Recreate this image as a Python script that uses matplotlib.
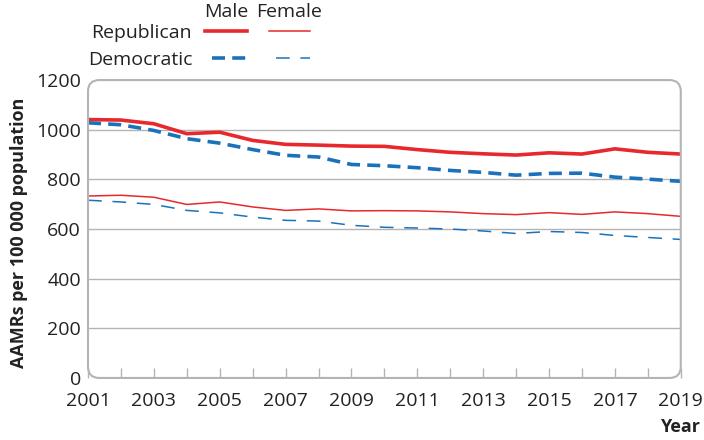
import matplotlib.pyplot as plt
from matplotlib.patches import FancyBboxPatch
from matplotlib.lines import Line2D

plt.rcParams['font.family'] = ['Open Sans', 'DejaVu Sans']

years = list(range(2001, 2020))
rep_male = [1041, 1039, 1024, 984, 990, 957, 941, 938, 934, 933,
            920, 909, 903, 898, 907, 902, 923, 909, 902]
dem_male = [1028, 1020, 997, 964, 946, 920, 897, 890, 860, 855,
            847, 836, 828, 817, 824, 825, 809, 801, 792]
rep_female = [733, 736, 728, 699, 709, 689, 675, 681, 673, 674,
              673, 669, 662, 658, 666, 659, 669, 662, 651]
dem_female = [716, 709, 699, 675, 665, 648, 635, 632, 615, 607,
              604, 600, 592, 582, 590, 586, 574, 566, 558]

red = '#e8282d'
blue = '#1b72bb'
grey = '#b4b4b4'
ink = '#222222'

fig = plt.figure(figsize=(7.04, 4.40), dpi=100)
ax = fig.add_axes([0.125, 0.141, 0.842, 0.677])

ax.plot(years, rep_male, color=red, lw=2.6, solid_capstyle='butt')
ax.plot(years, dem_male, color=blue, lw=2.6, dashes=(3.6, 2.0))
ax.plot(years, rep_female, color=red, lw=1.1)
ax.plot(years, dem_female, color=blue, lw=1.1, dashes=(9, 7))

ax.set_xlim(2001, 2019)
ax.set_ylim(0, 1200)
ax.set_yticks(range(0, 1201, 200))
ax.set_xticks(range(2001, 2020, 2))
ax.set_xticks(years, minor=True)
for y in range(200, 1200, 200):
    ax.axhline(y, color=grey, lw=1, zorder=0)

for s in ax.spines.values():
    s.set_visible(False)
ax.tick_params(axis='y', length=0, labelsize=14, pad=5, colors=ink)
ax.tick_params(axis='x', which='both', direction='in', length=7, width=1,
               color=grey, labelsize=14, pad=4, labelcolor=ink)
ax.tick_params(axis='x', which='major', pad=10)

# rounded frame
pos = ax.get_position()
frame = FancyBboxPatch((pos.x0, pos.y0), pos.width, pos.height,
                       boxstyle='round,pad=0,rounding_size=0.016',
                       mutation_aspect=704 / 440, transform=fig.transFigure,
                       fill=False, edgecolor=grey, lw=1.5, zorder=5)
fig.patches.append(frame)

fig.text(0.027, 0.47, 'AAMRs per 100 000 population', rotation=90,
         ha='center', va='center', fontsize=13, fontweight='bold', color=ink)
fig.text(0.995, 0.03, 'Year', ha='right', va='center', fontsize=13,
         fontweight='bold', color=ink)

# legend drawn by hand
fig.text(0.321, 0.972, 'Male', ha='center', va='center', fontsize=14, color=ink)
fig.text(0.411, 0.972, 'Female', ha='center', va='center', fontsize=14, color=ink)
fig.text(0.273, 0.925, 'Republican', ha='right', va='center', fontsize=14, color=ink)
fig.text(0.273, 0.863, 'Democratic', ha='right', va='center', fontsize=14, color=ink)
fig.lines.append(Line2D([0.291, 0.351], [0.93, 0.93], color=red, lw=2.6,
                        transform=fig.transFigure))
fig.lines.append(Line2D([0.382, 0.440], [0.93, 0.93], color=red, lw=1.1,
                        transform=fig.transFigure))
fig.lines.append(Line2D([0.301, 0.351], [0.868, 0.868], color=blue, lw=2.6,
                        dashes=(3.6, 2.0), transform=fig.transFigure))
fig.lines.append(Line2D([0.392, 0.440], [0.868, 0.868], color=blue, lw=1.1,
                        dashes=(9, 7), transform=fig.transFigure))

fig.savefig('out.png', dpi=100)
